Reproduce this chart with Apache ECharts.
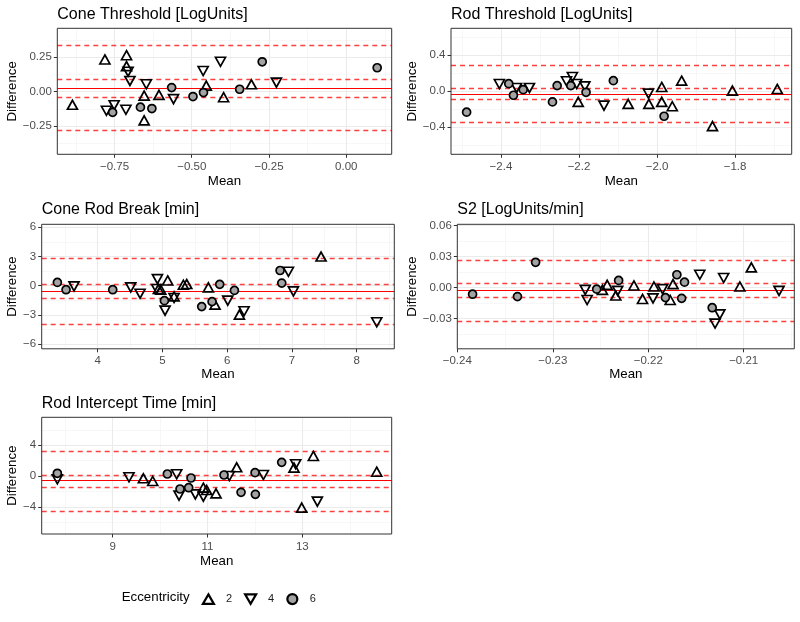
<!DOCTYPE html>
<html><head><meta charset="utf-8">
<script src="https://cdn.jsdelivr.net/npm/echarts@6/dist/echarts.min.js"></script>
<style>html,body{margin:0;padding:0;background:#fff}#c{width:800px;height:622px}</style>
</head><body><div id="c"></div><script>
// ---------- DATA ----------
// Cone Threshold [LogUnits]  ([mean, difference])
const coneThr_e2 = [[-0.886,-0.096],[-0.781,0.233],[-0.711,0.264],[-0.711,0.185],[-0.654,-0.029],[-0.654,-0.209],[-0.606,-0.024],[-0.453,0.043],[-0.397,-0.041],[-0.307,0.053]];
const coneThr_e4 = [[-0.776,-0.139],[-0.751,-0.099],[-0.713,-0.132],[-0.706,0.144],[-0.700,0.077],[-0.647,0.053],[-0.559,-0.055],[-0.463,0.149],[-0.407,0.216],[-0.226,0.065]];
const coneThr_e6 = [[-0.756,-0.151],[-0.666,-0.113],[-0.629,-0.123],[-0.565,0.029],[-0.496,-0.036],[-0.462,-0.007],[-0.345,0.017],[-0.272,0.216],[0.100,0.173]];
const coneThr_bias = 0.025;
const coneThr_limits = [0.334, 0.089, -0.040, -0.279];

// Rod Threshold [LogUnits]
const rodThr_e2 = [[-2.202,-0.118],[-2.074,-0.140],[-2.021,-0.140],[-1.988,0.048],[-1.988,-0.118],[-1.961,-0.166],[-1.937,0.118],[-1.858,-0.387],[-1.807,0.007],[-1.692,0.026]];
const rodThr_e4 = [[-2.404,0.081],[-2.360,0.037],[-2.327,0.037],[-2.232,0.111],[-2.217,0.159],[-2.206,0.081],[-2.185,0.055],[-2.136,-0.159],[-2.022,-0.026]];
const rodThr_e6 = [[-2.488,-0.232],[-2.380,0.085],[-2.368,-0.044],[-2.343,0.018],[-2.268,-0.118],[-2.256,0.063],[-2.221,0.063],[-2.182,-0.011],[-2.112,0.118],[-1.982,-0.277]];
const rodThr_bias = -0.030;
const rodThr_limits = [0.284, 0.033, -0.085, -0.343];

// Cone Rod Break [min]
const crb_e2 = [[4.937,-0.34],[4.973,-0.41],[5.081,0.54],[5.179,-1.09],[5.323,0.10],[5.375,0.17],[5.709,-0.17],[5.812,-1.94],[6.188,-2.96],[7.449,2.99]];
const crb_e4 = [[3.634,-0.07],[4.510,-0.17],[4.654,-0.82],[4.922,0.68],[4.911,-0.34],[5.040,-2.55],[5.179,-1.26],[6.008,-1.53],[6.260,-2.62],[6.945,1.43],[7.022,-0.58],[8.309,-3.74]];
const crb_e6 = [[3.377,0.34],[3.511,-0.41],[4.232,-0.41],[5.030,-1.53],[5.606,-2.14],[5.766,-1.63],[5.884,0.14],[6.111,-0.48],[6.816,1.56],[6.842,0.27]];
const crb_bias = -0.58;
const crb_limits = [2.79, 0.17, -1.33, -3.98];

// S2 [LogUnits/min]
const s2_e2 = [[-0.2248,-0.0023],[-0.2243,0.0026],[-0.2234,-0.0078],[-0.2215,0.0020],[-0.2206,-0.0111],[-0.2194,0.0010],[-0.2177,-0.0121],[-0.2174,0.0033],[-0.2104,0.0010],[-0.2092,0.0196]];
const s2_e4 = [[-0.2266,-0.0023],[-0.2264,-0.0121],[-0.2232,-0.0033],[-0.2195,-0.0105],[-0.2185,-0.0016],[-0.2146,0.0124],[-0.2130,-0.0350],[-0.2125,-0.0261],[-0.2121,0.0092],[-0.2063,-0.0033]];
const s2_e6 = [[-0.2384,-0.0065],[-0.2337,-0.0088],[-0.2318,0.0245],[-0.2254,-0.0016],[-0.2231,0.0069],[-0.2182,-0.0098],[-0.2170,0.0124],[-0.2165,-0.0105],[-0.2162,0.0052],[-0.2133,-0.0196]];
const s2_bias = -0.0029;
const s2_limits = [0.0265, 0.0042, -0.0098, -0.0324];

// Rod Intercept Time [min]
const rit_e2 = [[9.647,-0.30],[9.844,-0.65],[10.912,-1.52],[10.982,-1.82],[11.179,-2.25],[11.615,1.13],[12.824,1.08],[12.986,-4.11],[13.232,2.60],[14.568,0.56]];
const rit_e4 = [[7.833,-0.43],[9.344,-0.17],[10.350,0.22],[10.399,-2.55],[10.743,-2.38],[10.912,-2.68],[11.460,0.00],[12.178,0.13],[12.859,1.52],[13.316,-3.33]];
const rit_e6 = [[7.833,0.35],[10.153,0.26],[10.420,-1.69],[10.603,-1.52],[10.652,-0.26],[11.348,0.13],[11.707,-2.12],[12.002,0.43],[12.009,-2.38],[12.564,1.77]];
const rit_bias = -0.61;
const rit_limits = [3.16, 0.13, -1.52, -4.55];

// Tick values
const coneThr_xTicks = [-0.75, -0.5, -0.25, 0];
const coneThr_xMinor = [-0.875, -0.625, -0.375, -0.125, 0.125];
const coneThr_yTicks = [-0.25, 0, 0.25];
const coneThr_yMinor = [-0.375, -0.125, 0.125, 0.375];
const rodThr_xTicks = [-2.4, -2.2, -2.0, -1.8];
const rodThr_xMinor = [-2.5, -2.3, -2.1, -1.9, -1.7];
const rodThr_yTicks = [-0.4, 0, 0.4];
const rodThr_yMinor = [-0.6, -0.2, 0.2, 0.6];
const crb_xTicks = [4, 5, 6, 7, 8];
const crb_xMinor = [3.5, 4.5, 5.5, 6.5, 7.5, 8.5];
const crb_yTicks = [-6, -3, 0, 3, 6];
const crb_yMinor = [-4.5, -1.5, 1.5, 4.5];
const s2_xTicks = [-0.24, -0.23, -0.22, -0.21];
const s2_xMinor = [-0.235, -0.225, -0.215, -0.205];
const s2_yTicks = [-0.06, -0.03, 0, 0.03, 0.06];
const s2_yMinor = [-0.045, -0.015, 0.015, 0.045];
const rit_xTicks = [9, 11, 13];
const rit_xMinor = [8, 10, 12, 14];
const rit_yTicks = [-4, 0, 4];
const rit_yMinor = [-6, -2, 2, 6];

const groupNames = ['2', '4', '6'];

// ---------- STYLE / LAYOUT ----------
const FONT = "'Liberation Sans', Arial, Helvetica, sans-serif";
const TRI_UP = 'path://M5,0L10,8.66L0,8.66Z';
const TRI_DOWN = 'path://M0,0L10,0L5,8.66Z';

const panels = [
  { title: 'Cone Threshold [LogUnits]', grid: {left: 57.3, top: 28.3, width: 334.4, height: 126}, titleTop: 7,
    xr: [-0.935, 0.147], yr: [-0.455, 0.459], xT: coneThr_xTicks, xM: coneThr_xMinor, yT: coneThr_yTicks, yM: coneThr_yMinor,
    xd: 2, yd: 2, yGap: 38, xGap: 21, sets: [coneThr_e2, coneThr_e4, coneThr_e6], bias: coneThr_bias, lim: coneThr_limits },
  { title: 'Rod Threshold [LogUnits]', grid: {left: 451, top: 28.3, width: 340.7, height: 126}, titleTop: 7,
    xr: [-2.528, -1.655], yr: [-0.70, 0.70], xT: rodThr_xTicks, xM: rodThr_xMinor, yT: rodThr_yTicks, yM: rodThr_yMinor,
    xd: 1, yd: 1, yGap: 32, xGap: 21, sets: [rodThr_e2, rodThr_e4, rodThr_e6], bias: rodThr_bias, lim: rodThr_limits },
  { title: 'Cone Rod Break [min]', grid: {left: 41.7, top: 224.3, width: 352.6, height: 124.5}, titleTop: 202,
    xr: [3.135, 8.58], yr: [-6.46, 6.29], xT: crb_xTicks, xM: crb_xMinor, yT: crb_yTicks, yM: crb_yMinor,
    xd: 0, yd: 0, yGap: 23, xGap: 19, sets: [crb_e2, crb_e4, crb_e6], bias: crb_bias, lim: crb_limits },
  { title: 'S2 [LogUnits/min]', grid: {left: 457.3, top: 224.3, width: 337, height: 124.5}, titleTop: 202,
    xr: [-0.24, -0.2047], yr: [-0.0595, 0.0614], xT: s2_xTicks, xM: s2_xMinor, yT: s2_yTicks, yM: s2_yMinor,
    xd: 2, yd: 2, yGap: 38.5, xGap: 19, sets: [s2_e2, s2_e4, s2_e6], bias: s2_bias, lim: s2_limits },
  { title: 'Rod Intercept Time [min]', grid: {left: 41.7, top: 417.3, width: 350, height: 116.7}, titleTop: 396,
    xr: [7.503, 14.884], yr: [-7.53, 7.62], xT: rit_xTicks, xM: rit_xMinor, yT: rit_yTicks, yM: rit_yMinor,
    xd: 0, yd: 0, yGap: 23, xGap: 20.5, sets: [rit_e2, rit_e4, rit_e6], bias: rit_bias, lim: rit_limits }
];

function fmt(d) {
  return function (v) {
    const s = Math.abs(v).toFixed(d);
    return (v < -1e-12 ? '\u2212' : '') + s;
  };
}

const groupStyle = [
  { symbol: TRI_UP, size: [10, 9], color: 'rgba(0,0,0,0)' },
  { symbol: TRI_DOWN, size: [10, 9], color: 'rgba(0,0,0,0)' },
  { symbol: 'circle', size: 8, color: '#a3a3a3' }
];

const option = {
  animation: false,
  backgroundColor: '#fff',
  title: [], grid: [], xAxis: [], yAxis: [], series: [],
  legend: {
    left: 201.8, top: 593, padding: 0, itemGap: 12, itemWidth: 11, itemHeight: 10,
    textStyle: { fontFamily: FONT, fontSize: 11, color: '#1a1a1a', padding: [0, 0, 0, 7] },
    data: [
      { name: '2', icon: TRI_UP, itemStyle: { color: 'rgba(0,0,0,0)', borderColor: '#000', borderWidth: 2.2 } },
      { name: '4', icon: TRI_DOWN, itemStyle: { color: 'rgba(0,0,0,0)', borderColor: '#000', borderWidth: 2.2 } },
      { name: '6', icon: 'circle', itemStyle: { color: '#a3a3a3', borderColor: '#000', borderWidth: 2.2 } }
    ]
  },
  graphic: [{
    type: 'text', left: 121.7, top: 590.5,
    style: { text: 'Eccentricity', font: '13.3px ' + FONT, fill: '#000' }
  }]
};

function hLine(p, v, style) {
  return [{ coord: [p.xr[0], v], lineStyle: style }, { coord: [p.xr[1], v] }];
}
function vLine(p, v, style) {
  return [{ coord: [v, p.yr[0]], lineStyle: style }, { coord: [v, p.yr[1]] }];
}

panels.forEach(function (p, i) {
  option.title.push({ text: p.title, left: p.grid.left, top: p.titleTop, padding: 0,
    textStyle: { fontFamily: FONT, fontSize: 16, fontWeight: 'normal', color: '#000' } });
  option.grid.push(Object.assign({ show: true, z: 10, backgroundColor: 'rgba(0,0,0,0)', borderColor: '#333', borderWidth: 1 }, p.grid));
  option.xAxis.push({
    type: 'value', gridIndex: i, min: p.xr[0], max: p.xr[1],
    name: 'Mean', nameLocation: 'middle', nameGap: p.xGap,
    nameTextStyle: { fontFamily: FONT, fontSize: 13.3, color: '#000' },
    axisLine: { show: false, onZero: false, lineStyle: { color: 'rgba(0,0,0,0)' } },
    axisTick: { show: true, length: 3.5, customValues: p.xT, lineStyle: { color: '#333', width: 1 } },
    axisLabel: { customValues: p.xT, formatter: fmt(p.xd), margin: 6.5, fontFamily: FONT, fontSize: 11.5, color: '#4d4d4d' },
    splitLine: { show: false }
  });
  option.yAxis.push({
    type: 'value', gridIndex: i, min: p.yr[0], max: p.yr[1],
    name: 'Difference', nameLocation: 'middle', nameGap: p.yGap,
    nameTextStyle: { fontFamily: FONT, fontSize: 13.3, color: '#000' },
    axisLine: { show: false, onZero: false, lineStyle: { color: 'rgba(0,0,0,0)' } },
    axisTick: { show: true, length: 3.5, customValues: p.yT, lineStyle: { color: '#333', width: 1 } },
    axisLabel: { customValues: p.yT, formatter: fmt(p.yd), margin: 5.5, fontFamily: FONT, fontSize: 11.5, color: '#4d4d4d' },
    splitLine: { show: false }
  });
  const inside = function (v, r) { return v > r[0] + 1e-9 && v < r[1] - 1e-9; };
  const minorStyle = { color: '#f2f2f2', width: 0.6, type: 'solid' };
  const majorStyle = { color: '#ebebeb', width: 1.1, type: 'solid' };
  const gl = [];
  p.xM.filter(v => inside(v, p.xr)).forEach(v => gl.push(vLine(p, v, minorStyle)));
  p.yM.filter(v => inside(v, p.yr)).forEach(v => gl.push(hLine(p, v, minorStyle)));
  p.xT.filter(v => inside(v, p.xr)).forEach(v => gl.push(vLine(p, v, majorStyle)));
  p.yT.filter(v => inside(v, p.yr)).forEach(v => gl.push(hLine(p, v, majorStyle)));
  option.series.push({
    type: 'scatter', name: 'grid' + i, xAxisIndex: i, yAxisIndex: i, data: [], silent: true,
    markLine: { silent: true, symbol: 'none', z: 1, label: { show: false }, animation: false, data: gl }
  });
  const dashStyle = { color: 'rgba(255,0,0,0.75)', width: 1.4, type: [5, 4] };
  const rl = p.lim.map(v => hLine(p, v, dashStyle));
  rl.push(hLine(p, p.bias, { color: '#ff0000', width: 1.1, type: 'solid' }));
  option.series.push({
    type: 'scatter', name: 'ref' + i, xAxisIndex: i, yAxisIndex: i, data: [], silent: true,
    markLine: { silent: true, symbol: 'none', z: 2, label: { show: false }, animation: false, data: rl }
  });
  p.sets.forEach(function (set, g) {
    const st = groupStyle[g];
    option.series.push({
      type: 'scatter', name: groupNames[g], xAxisIndex: i, yAxisIndex: i, z: 3,
      symbol: st.symbol, symbolSize: st.size,
      itemStyle: { color: st.color, borderColor: '#000', borderWidth: 1.7, opacity: 1 },
      emphasis: { disabled: true },
      data: set
    });
  });
});

const chart = echarts.init(document.getElementById('c'), null, { renderer: 'canvas' });
chart.setOption(option);
</script></body></html>
